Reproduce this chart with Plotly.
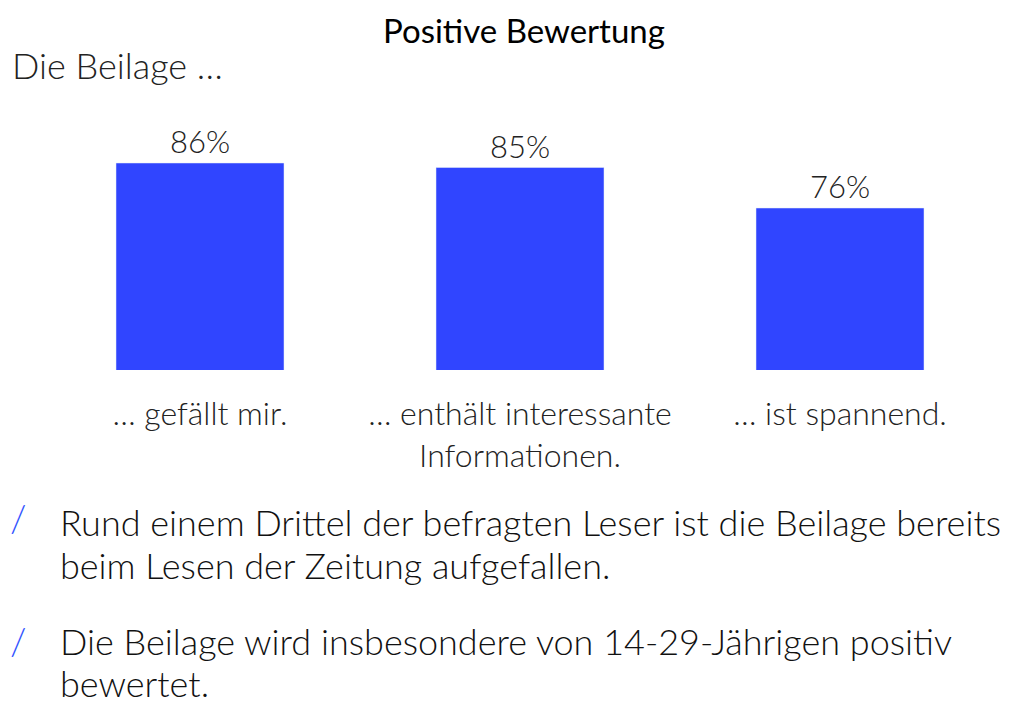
import plotly.graph_objects as go

categories = ["… gefällt mir.", "… enthält interessante<br>Informationen.", "… ist spannend."]
values = [86, 85, 76]
labels = ["86%", "85%", "76%"]
title = "Positive Bewertung"
subtitle = "Die Beilage …"
bullets = [
    ["Rund einem Drittel der befragten Leser ist die Beilage bereits",
     "beim Lesen der Zeitung aufgefallen."],
    ["Die Beilage wird insbesondere von 14-29-Jährigen positiv",
     "bewertet."],
]

FONT = "Lato"
OFF = 8  # page body margin
W, H = 1031, 704
L, R, T = 40 - OFF, 39, 100 - OFF
PB = 370 - OFF
B = H - PB
PW, PH = W - L - R, H - T - B

def px(x):
    return (x - OFF - L) / PW

def py(y):
    return (PB - (y - OFF)) / PH

fig = go.Figure(go.Bar(
    x=[0, 1, 2], y=values, text=labels, textposition="outside",
    textfont=dict(family=FONT, size=31, color="#222222", weight=300),
    marker=dict(color="#3045FF"), width=0.525, cliponaxis=False,
))

ann = [
    dict(text=title, x=px(524), y=py(OFF), xref="paper", yref="paper", showarrow=False,
         font=dict(family=FONT, size=33, color="#000000", weight=400), xanchor="center", yanchor="top"),
    dict(text=subtitle, x=px(10), y=py(65), xref="paper", yref="paper", showarrow=False,
         font=dict(family=FONT, size=36, color="#222222", weight=300), xanchor="left", yanchor="middle"),
]
for lines, slash_y, ys in zip(bullets, [517, 640], [(522, 565), (641, 683)]):
    ann.append(dict(text="/", x=px(8), y=py(slash_y), xref="paper", yref="paper", showarrow=False,
                    font=dict(family=FONT, size=38, color="#3355FF", weight=300),
                    xanchor="left", yanchor="middle"))
    for line, yy in zip(lines, ys):
        ann.append(dict(text=line, x=px(58), y=py(yy), xref="paper", yref="paper", showarrow=False,
                        font=dict(family=FONT, size=36, color="#111111", weight=300), align="left",
                        xanchor="left", yanchor="middle"))

fig.update_layout(
    width=W, height=H, margin=dict(l=L, r=R, t=T, b=B, autoexpand=False),
    paper_bgcolor="white", plot_bgcolor="white", showlegend=False,
    xaxis=dict(tickvals=[0, 1, 2], ticktext=categories, range=[-0.5, 2.5],
               showgrid=False, zeroline=False, showline=False, ticks="",
               tickfont=dict(family=FONT, size=32, color="#222222", weight=300), ticklabelstandoff=22),
    yaxis=dict(range=[40, 100], visible=False),
    annotations=ann,
)
fig.write_html("out.html")
